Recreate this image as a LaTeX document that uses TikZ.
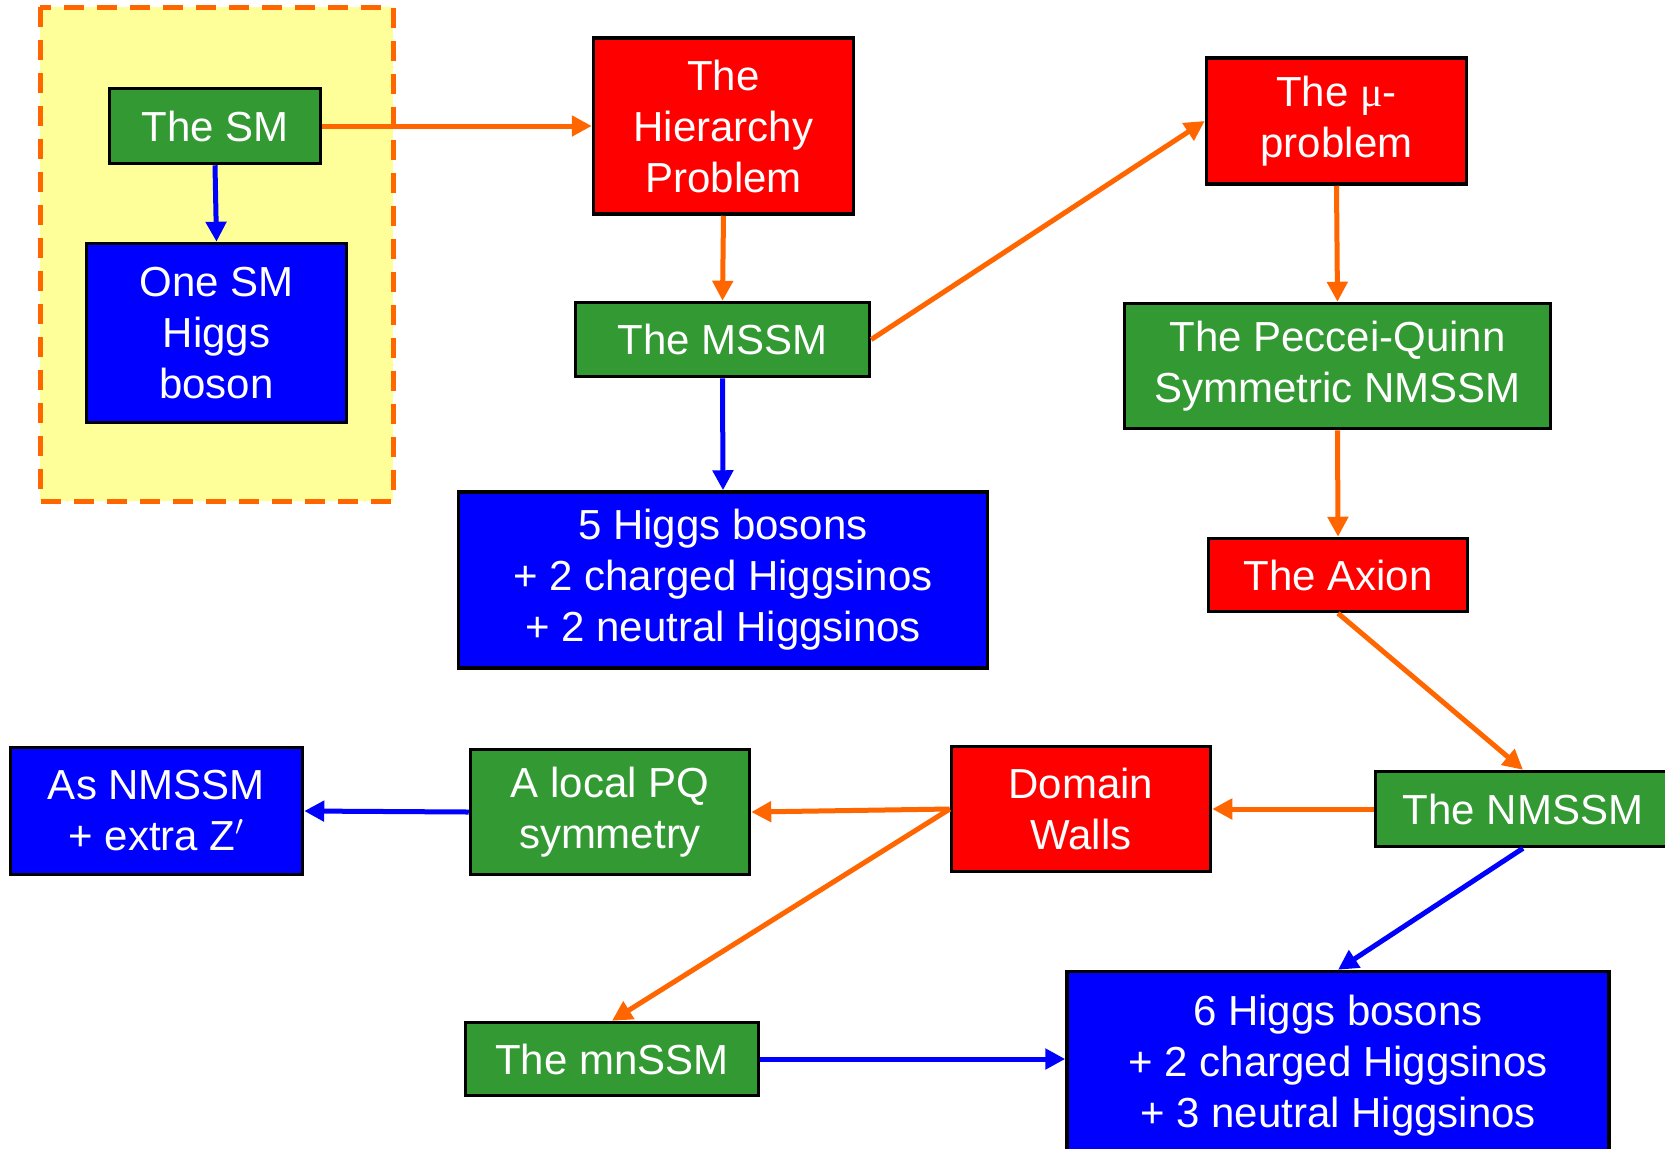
\documentclass[tikz,border=0pt]{standalone}
\usepackage{fontspec}
\setmainfont{Liberation Sans}
\newfontfamily\symbolfont{Liberation Serif}
\usetikzlibrary{arrows.meta}

\definecolor{smgreen}{RGB}{51,153,51}
\definecolor{linkorange}{RGB}{255,102,0}
\definecolor{smyellow}{RGB}{255,255,153}

\tikzset{
  box/.style={draw=black, line width=1.75pt, text=white, align=center,
    inner sep=0pt, font=\fontsize{21}{25.5}\selectfont},
  greenbox/.style={box, fill=smgreen},
  redbox/.style={box, fill=red},
  bluebox/.style={box, fill=blue},
  orangelink/.style={draw=linkorange, line width=2.5pt,
    -{Triangle[length=10pt,width=10pt]}},
  bluelink/.style={draw=blue, line width=2.5pt,
    -{Triangle[length=10pt,width=10pt]}}
}

\begin{document}
\begin{tikzpicture}[x=0.5pt, y=-0.5pt]
  \useasboundingbox (0,0) rectangle (1665,1148);
  \clip (0,0) rectangle (1665,1148);

  % The SM region
  \draw[fill=smyellow, draw=linkorange, line width=2.5pt, dash pattern=on 10pt off 6.5pt]
    (40,7) rectangle (393,501);

  \node[greenbox, minimum width=105.5pt, minimum height=37.5pt] (sm) at (215,126) {The SM};
  \node[bluebox, minimum width=130pt, minimum height=89.5pt] (onesm) at (216.5,333) {One SM\\Higgs\\boson};

  % MSSM column
  \node[redbox, minimum width=130pt, minimum height=88pt] (hier) at (723.5,126) {The\\Hierarchy\\Problem};
  \node[greenbox, minimum width=147pt, minimum height=37pt] (mssm) at (722.5,339.5) {The MSSM};
  \node[bluebox, minimum width=264.5pt, minimum height=88pt] (fivehiggs) at (723,580)
    {5 Higgs bosons\\+ 2 charged Higgsinos\\+ 2 neutral Higgsinos};

  % mu-problem column
  \node[redbox, minimum width=130pt, minimum height=63pt] (mu) at (1336.5,121) {The {\symbolfont μ}-\\problem};
  \node[greenbox, minimum width=213pt, minimum height=62.5pt] (pq) at (1337.5,366) {The Peccei-Quinn\\Symmetric NMSSM};
  \node[redbox, minimum width=129.5pt, minimum height=36.5pt] (axion) at (1338,575) {The Axion};

  % NMSSM row
  \node[greenbox, minimum width=147.5pt, minimum height=37.5pt] (nmssm) at (1523,809) {The NMSSM};
  \node[redbox, minimum width=129.5pt, minimum height=62.5pt] (walls) at (1081,809) {Domain\\Walls};
  \node[greenbox, minimum width=139.5pt, minimum height=62.5pt] (localpq) at (610,812) {A local PQ\\symmetry};
  \node[bluebox, minimum width=146pt, minimum height=63.5pt] (extraz) at (156.5,811) {As NMSSM\\+ extra Z$'$};

  % bottom row
  \node[greenbox, minimum width=146.5pt, minimum height=36.5pt] (mnssm) at (612,1059) {The mnSSM};
  \node[bluebox, minimum width=271pt, minimum height=94.5pt] (sixhiggs) at (1338,1066)
    {6 Higgs bosons\\+ 2 charged Higgsinos\\+ 3 neutral Higgsinos};

  % Links
  \draw[orangelink] (sm.east) -- (hier.west);
  \draw[bluelink] (sm.south) -- (onesm.north);
  \draw[orangelink] (hier.south) -- (mssm.north);
  \draw[orangelink] (mssm.east) -- (mu.west);
  \draw[bluelink] (mssm.south) -- (fivehiggs.north);
  \draw[orangelink] (mu.south) -- (pq.north);
  \draw[orangelink] (pq.south) -- (axion.north);
  \draw[orangelink] (axion.south) -- (nmssm.north);
  \draw[orangelink] (nmssm.west) -- (walls.east);
  \draw[orangelink] (walls.west) -- (localpq.east);
  \draw[bluelink] (localpq.west) -- (extraz.east);
  \draw[orangelink] (walls.west) -- (mnssm.north);
  \draw[bluelink] (mnssm.east) -- (mnssm.east -| sixhiggs.west);
  \draw[bluelink] (nmssm.south) -- (sixhiggs.north);
\end{tikzpicture}
\end{document}
